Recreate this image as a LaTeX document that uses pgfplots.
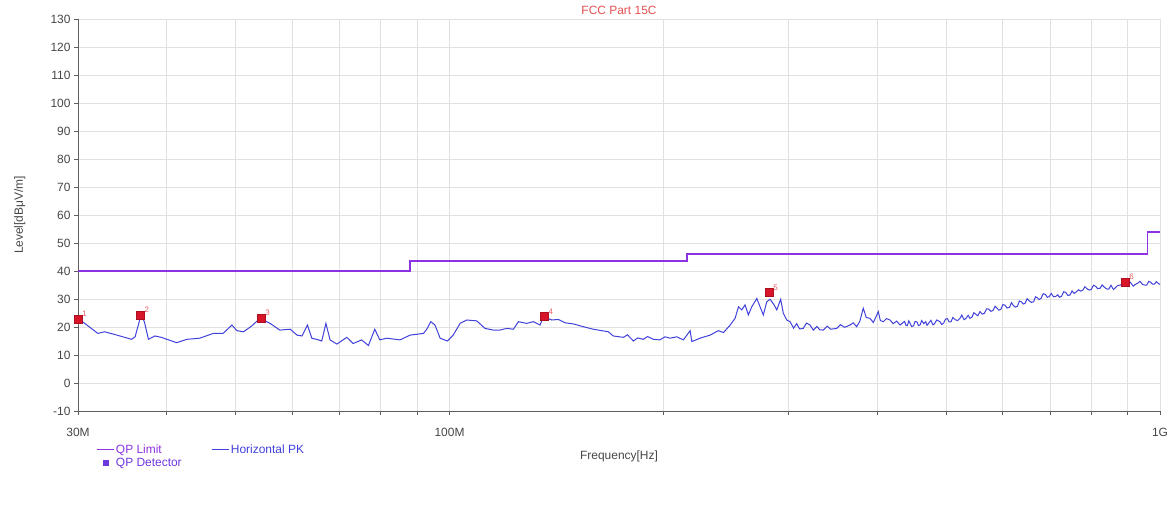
\documentclass[border=0pt]{standalone}
\usepackage{fontspec}
\setmainfont{Liberation Sans}
\usepackage{pgfplots}
\pgfplotsset{compat=1.18}
\definecolor{limitc}{RGB}{140,50,225}
\definecolor{pkc}{RGB}{65,65,220}
\definecolor{qpc}{RGB}{215,20,40}
\definecolor{qplab}{RGB}{235,90,100}
\definecolor{titc}{RGB}{225,80,80}
\definecolor{gridc}{RGB}{225,225,225}
\definecolor{axc}{RGB}{95,95,95}
\definecolor{txt}{RGB}{70,70,70}
\pgfplotstableread{
f l
30 40
88 40
88 43.5
216 43.5
216 46
960 46
960 54
1000 54
}\limittab
\pgfplotstableread{
f l
30.0 23.1
32.0 17.7
32.7 18.3
33.6 17.5
35.7 15.6
36.1 16.5
36.8 24.3
37.2 21.9
37.7 15.6
38.5 16.8
39.3 16.3
41.3 14.4
42.7 15.6
44.5 16.0
46.5 17.7
48.0 17.7
49.4 20.7
50.2 18.7
51.3 18.3
52.7 20.4
54.1 23.1
55.9 21.3
57.7 18.9
59.7 19.2
61.0 17.1
62.0 16.8
63.1 20.7
64.0 16.0
65.4 15.4
66.1 15.0
67.0 21.3
67.9 15.4
69.4 13.9
71.7 16.3
73.2 14.1
75.2 15.4
76.9 13.4
78.5 19.2
79.8 15.4
81.6 16.0
85.2 15.4
88.0 17.1
91.9 17.7
92.9 19.2
94.1 21.9
95.4 20.7
97.0 16.0
99.3 15.0
101.2 17.1
103.5 21.3
105.7 22.5
109.2 22.2
112.2 19.5
115.3 18.9
117.8 18.9
120.4 19.5
123.0 19.2
125.0 21.9
128.4 21.3
131.2 21.9
134.1 20.7
135.6 23.7
139.3 22.5
142.3 22.7
145.4 21.5
149.4 21.1
154.3 20.1
159.4 19.2
167.3 18.3
170.0 16.8
175.7 16.3
178.0 17.2
181.5 15.0
184.0 16.1
187.4 15.6
190.0 16.6
193.6 15.6
197.8 15.4
201.0 16.5
204.4 16.0
208.8 16.5
213.4 15.4
218.1 18.7
219.3 14.8
225.2 16.0
232.7 17.1
239.0 18.7
243.0 18.0
248.3 20.7
252.3 23.1
255.1 27.2
257.8 26.1
260.6 27.9
263.4 24.3
266.3 27.2
270.7 30.2
273.6 27.2
276.5 24.3
279.6 29.0
282.6 29.9
286.3 27.9
288.8 26.1
292.5 29.9
295.0 24.9
298.3 22.5
301.5 21.9
305.0 19.6
308.1 21.2
311.0 19.3
314.7 19.5
318.0 21.4
321.7 20.7
325.1 18.9
329.0 20.2
332.0 19.0
335.8 18.9
340.0 20.3
344.0 19.2
350.7 19.5
355.0 20.8
360.0 19.9
366.1 20.7
370.0 21.5
374.2 20.1
378.0 22.0
382.3 26.7
386.0 23.4
390.7 23.1
395.0 21.6
401.3 25.5
404.0 22.3
407.9 21.9
412.0 23.0
416.9 22.5
421.0 21.2
426.0 22.1
430.6 20.7
437 22.0
439 20.6
441 20.5
443 22.2
444.8 21.3
447 20.2
450 20.4
452 22.0
455 21.8
457 20.5
459.4 20.7
462 22.3
465 21.2
468 21.9
470 20.6
473 21.5
476 22.4
479 20.8
481 21.0
485 22.5
490.1 21.9
493 20.9
496 21.4
499 22.8
502 23.0
505 21.8
508 21.9
511 23.4
515 22.6
519 22.3
523 23.1
526 24.3
530 22.6
533 23.0
537 24.2
540 23.1
544 23.6
547 25.1
551 24.5
554 24.0
558 25.5
562 24.6
566 24.9
570 26.5
574 26.4
578 25.6
582 25.9
586 27.4
590 26.7
593 26.0
597 26.3
601 28.0
605 27.8
609 26.8
614 27.0
618 28.7
622 27.6
626 27.1
630 27.4
634 29.3
638 29.0
642 28.2
646 28.5
650 30.1
655 29.3
659 28.8
664 29.0
668 30.8
672 30.4
676 29.8
680 30.2
685 31.9
690 31.6
694 30.6
698 30.8
703 32.0
708 30.8
713 30.9
718 31.5
722 30.6
727 31.0
732 32.6
737 32.3
742 31.3
747 31.4
752 32.9
757 32.0
762 32.5
768 33.3
773 32.8
779 33.2
784 34.4
790 33.6
795 33.2
800 33.4
806 34.9
812 34.5
817 33.7
823 33.8
829 35.0
835 34.2
841 33.6
847 33.5
853 34.9
860 33.4
866 34.1
872 34.8
880 35.0
888 35.5
894 34.8
900 34.9
908 36.0
917 34.6
923 35.2
930 35.6
937 36.3
945 35.2
951 35.0
958 35.0
964 36.3
970 36.0
976 35.3
982 35.3
988 36.2
995 35.5
1000 35.2
}\pktab
\pgfplotstableread{
f l lab
30.0 22.8 1
36.7 24.3 2
54.3 23.1 3
136.0 23.7 4
281.6 32.3 5
893.0 36.0 6
}\qptab
\begin{document}
\begin{tikzpicture}
\useasboundingbox (-78bp,-95bp) rectangle (1097bp,411bp);
\begin{axis}[
  at={(0,0)}, anchor=south west, scale only axis,
  width=1082bp, height=392bp,
  xmode=log, xmin=30, xmax=1000, ymin=-10, ymax=130,
  ytick={-10,0,...,130},
  xtick={30,100,1000}, xticklabels={30M,100M,1G},
  minor xtick={40,50,60,70,80,90,200,300,400,500,600,700,800,900},
  grid=both,
  major grid style={gridc, line width=0.6bp},
  minor grid style={gridc, line width=0.6bp},
  axis lines=left, axis line style={-, axc, line width=0.9bp},
  tick style={axc, line width=0.6bp}, tick align=outside,
  major tick length=4bp, minor tick length=4bp,
  clip=false,
  /pgf/number format/assume math mode=true,
  tick label style={font=\fontsize{12}{14}\selectfont, text=txt},
  xticklabel style={yshift=-10bp},
  title={FCC Part 15C},
  title style={at={(axis description cs:0.5,1)}, anchor=base, yshift=-1bp, inner sep=0pt, font=\fontsize{12}{14}\selectfont, text=titc},
  xlabel={Frequency[Hz]},
  xlabel style={at={(axis description cs:0.5,0)}, anchor=north, yshift=-36bp, font=\fontsize{12}{14}\selectfont, text=txt},
  ylabel={Level[dBμV/m]},
  ylabel style={at={(axis description cs:-0.0453,0.5)}, anchor=south, font=\fontsize{12}{14}\selectfont, text=txt},
  legend columns=2,
  legend cell align=left,
  legend style={at={(axis description cs:0.0139,-0.0765)}, anchor=north west, draw=none, fill=none,
    font=\fontsize{12}{14}\selectfont, nodes={inner sep=1.5bp},
    /tikz/every even column/.append style={column sep=28bp}},
]
\addlegendimage{limitc, line width=1.2bp}
\addlegendentry{\textcolor{limitc}{QP Limit}}
\addlegendimage{pkc, line width=1.2bp}
\addlegendentry{\textcolor{pkc}{Horizontal PK}}
\addlegendimage{only marks, mark=square*, mark size=2.5bp, color=limitc!60!pkc}
\addlegendentry{\textcolor{limitc!60!pkc}{QP Detector}}

\addplot[forget plot, limitc, line width=1.6bp] table[x=f, y=l] {\limittab};
\addplot[forget plot, pkc, line width=1.0bp] table[x=f, y=l] {\pktab};
\addplot[forget plot, only marks, mark=square*, mark size=4bp, color=qpc,
  mark options={draw=qpc!80!black, line width=0.6bp},
  nodes near coords, point meta=explicit symbolic,
  nodes near coords style={font=\fontsize{8}{9}\selectfont, text=qplab, anchor=south west, inner sep=0.5bp, xshift=3.5bp, yshift=1.5bp}]
  table[x=f, y=l, meta=lab] {\qptab};
\end{axis}
\end{tikzpicture}
\end{document}
